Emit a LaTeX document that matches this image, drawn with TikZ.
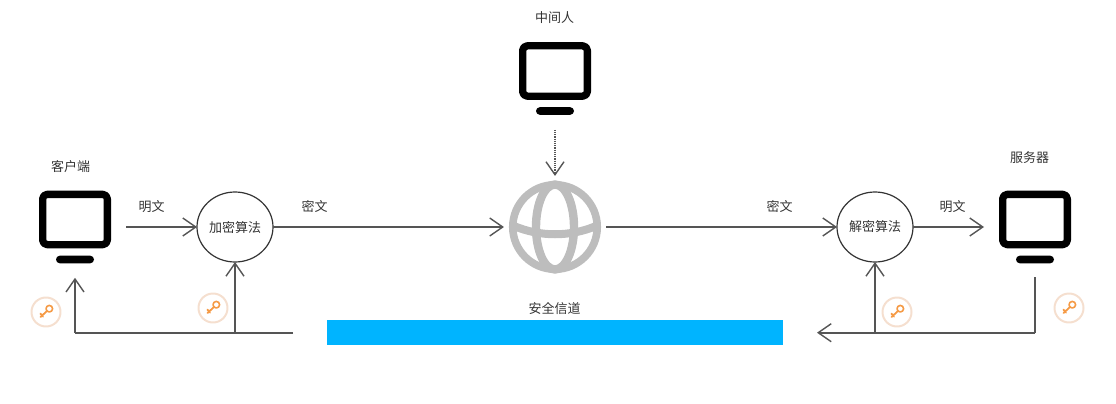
\documentclass[tikz,border=0pt]{standalone}
\usepackage{fontspec}
\setmainfont{Noto Sans CJK SC}
\usetikzlibrary{calc, positioning}
\usetikzlibrary{arrows.meta}
\usetikzlibrary{shapes.geometric}

\definecolor{linegray}{HTML}{555555}
\definecolor{globegray}{HTML}{BDBDBD}
\definecolor{barblue}{HTML}{00B4FF}
\definecolor{keyring}{HTML}{F5DFCF}
\definecolor{keyorange}{HTML}{F59A45}
\definecolor{labelgray}{HTML}{333333}

\tikzset{
  label text/.style={font=\fontsize{13}{15}\selectfont, text=labelgray, inner sep=0pt},
  screen/.style={draw=black, line width=7.3pt, rounded corners=4.5pt, minimum width=64.7pt, minimum height=50.3pt, inner sep=0pt},
  stand/.style={fill=black, rounded corners=3.8pt, minimum width=38pt, minimum height=7.6pt, inner sep=0pt, outer sep=0pt},
  algo/.style={ellipse, draw=labelgray, line width=1.2pt, minimum width=76pt, minimum height=70pt, inner sep=0pt, outer sep=0pt, label text},
  link/.style={draw=linegray, line width=1.6pt, -{Straight Barb[length=13pt, width=18pt, line width=1.4pt]}},
  plain link/.style={draw=linegray, line width=1.6pt},
  key ring/.style={circle, draw=keyring, line width=2pt, minimum size=29pt, inner sep=0pt},
  key line/.style={draw=keyorange, line width=1.8pt, line cap=round}
}

\begin{document}
\begin{tikzpicture}[x=1pt, y=-1pt, line join=round]
\useasboundingbox (0,0) rectangle (1116,404);

% Terminals
\node[screen] (client) at (75,219.5) {};
\node[stand] (clientstand) at (75,259.5) {};
\node[screen] (spy) at (555,71) {};
\node[stand] (spystand) at (555,111) {};
\node[screen] (server) at (1035,219.5) {};
\node[stand] (serverstand) at (1035,259.5) {};

\node[label text] (clientname) at (70.5,167) {客户端};
\node[label text] (spyname) at (554.5,18) {中间人};
\node[label text] (servername) at (1029.5,158) {服务器};

% Globe
\node[circle, draw=globegray, line width=7.6pt, minimum size=84.5pt, inner sep=0pt] (globe) at (555,227) {};
\draw[draw=globegray, line width=8.4pt] (globe.center) ellipse (19 and 42.5);
\draw[draw=globegray, line width=8pt] ($(globe.center)+(-41,-1)$) .. controls ($(globe.center)+(-15,10)$) and ($(globe.center)+(15,10)$) .. ($(globe.center)+(41,-1)$);

% Algorithms
\node[algo] (encrypt) at (235,227) {加密算法};
\node[algo] (decrypt) at (875,227) {解密算法};

% Secure channel
\node[fill=barblue, minimum width=456pt, minimum height=24.5pt, inner sep=0pt, outer sep=0pt] (channel) at (555,332.7) {};
\node[label text] (channelname) at (554.5,309) {安全信道};

% Data flow
\draw[link, shorten <=15pt] (client.east |- encrypt.west) -- (encrypt.west);
\draw[link, shorten >=5pt] (encrypt.east) -- (globe.west);
\draw[link, shorten <=5pt] (globe.east) -- (decrypt.west);
\draw[link, shorten >=15pt] (decrypt.east) -- (server.west |- decrypt.east);
\draw[link, line width=1.2pt, densely dotted, shorten <=15pt, shorten >=5pt] (spystand.south) -- (globe.north);

\node[label text] (plainleft) at (151.5,206.5) {明文};
\node[label text] (cipherleft) at (314.5,206.5) {密文};
\node[label text] (cipherright) at (779.5,206.5) {密文};
\node[label text] (plainright) at (952.5,206.5) {明文};

% Key delivery
\coordinate (leftend) at (293,332.7);
\coordinate (leftcorner) at (75,332.7);
\coordinate (leftjoin) at (235,332.7);
\coordinate (rightcorner) at (1035,332.7);
\coordinate (rightjoin) at (875,332.7);
\coordinate (rightend) at (817,332.7);

\draw[plain link] (leftend) -- (leftcorner);
\draw[link, shorten >=14.5pt] (leftcorner) -- (clientstand.south);
\draw[link] (leftjoin) -- (encrypt.south);
\draw[plain link, shorten >=13.5pt] (rightcorner) -- (serverstand.south);
\draw[link] (rightcorner) -- (rightend);
\draw[link] (rightjoin) -- (decrypt.south);

% Keys
\foreach \keyname/\keyx/\keyy in {keya/46/312, keyb/213/308, keyc/897/312, keyd/1069/308} {
  \node[key ring] (\keyname) at (\keyx,\keyy) {};
  \draw[key line, line width=1.6pt] ($(\keyname)+(3.3,-3.3)$) circle (3.3);
  \draw[key line] ($(\keyname)+(1,-1)$) -- ($(\keyname)+(-5.5,5)$);
  \draw[key line] ($(\keyname)+(-5.6,1.6)$) -- ($(\keyname)+(-3,4.6)$);
}
\end{tikzpicture}
\end{document}
